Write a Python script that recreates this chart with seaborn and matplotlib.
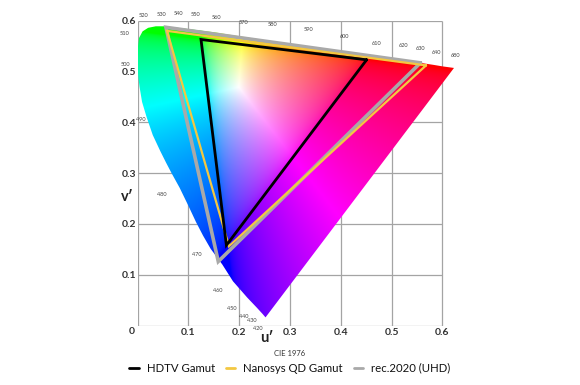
import numpy as np
import pandas as pd
import matplotlib
matplotlib.use("Agg")
import matplotlib.pyplot as plt
from matplotlib.patches import Polygon
import seaborn as sns

# ---- data -------------------------------------------------------------
# spectral locus outline (u', v'), read along the edge from the violet tip
# up the left side, across the top and down to the red corner
locus_u = [0.252, 0.246, 0.235, 0.216, 0.188, 0.167, 0.144, 0.129, 0.115, 0.100,
           0.083, 0.067, 0.056, 0.045, 0.030, 0.018, 0.009, 0.004, 0.0015, 0.000,
           0.0, 0.0008, 0.003, 0.010, 0.021, 0.036, 0.052, 0.079, 0.113,
           0.153, 0.203, 0.262, 0.332, 0.404, 0.469, 0.520, 0.557, 0.583, 0.601, 0.623]
locus_v = [0.016, 0.023, 0.035, 0.055, 0.087, 0.120, 0.151, 0.177, 0.204, 0.236,
           0.271, 0.300, 0.321, 0.343, 0.375, 0.410, 0.440, 0.470, 0.490, 0.513,
           0.530, 0.548, 0.566, 0.579, 0.586, 0.589, 0.589, 0.586, 0.582,
           0.577, 0.569, 0.560, 0.550, 0.539, 0.530, 0.522, 0.517, 0.513, 0.510, 0.507]

# wavelength labels and their positions
wl_labels = ["420", "430", "440", "450", "460", "470", "480", "490", "500", "510",
             "520", "530", "540", "550", "560", "570", "580", "590", "600", "610",
             "620", "630", "640", "680"]
wl_u = [0.237, 0.225, 0.210, 0.186, 0.158, 0.117, 0.048, 0.007, -0.023, -0.025,
        0.011, 0.048, 0.080, 0.115, 0.156, 0.208, 0.265, 0.336, 0.408, 0.471,
        0.523, 0.558, 0.588, 0.625]
wl_v = [-0.005, 0.009, 0.017, 0.034, 0.068, 0.139, 0.257, 0.405, 0.513, 0.574,
        0.611, 0.613, 0.615, 0.613, 0.607, 0.597, 0.592, 0.582, 0.568, 0.556,
        0.552, 0.546, 0.538, 0.531]

# gamut triangles (R, G, B, R)
hdtv_u = [0.451, 0.125, 0.175, 0.451]
hdtv_v = [0.523, 0.563, 0.158, 0.523]
qd_u = [0.568, 0.058, 0.180, 0.568]
qd_v = [0.512, 0.580, 0.156, 0.512]
rec_u = [0.557, 0.056, 0.159, 0.557]
rec_v = [0.517, 0.587, 0.126, 0.517]

tick_vals = [0.1, 0.2, 0.3, 0.4, 0.5, 0.6]
tick_text = ["0.1", "0.2", "0.3", "0.4", "0.5", "0.6"]

# ---- figure -----------------------------------------------------------
sns.set_theme(style="white")
plt.rcParams["font.family"] = ["Lato", "DejaVu Sans"]

fig = plt.figure(figsize=(5.8, 3.85), dpi=100)
ax = fig.add_axes([137.5 / 580, (385 - 325.5) / 385, 0.64 * 508 / 580, 0.6 * 508 / 385])
ax.set_xlim(0, 0.64)
ax.set_ylim(0, 0.6)
for s in ax.spines.values():
    s.set_visible(False)

# grid
gl = [0.0] + tick_vals
ax.vlines(gl, 0, 0.6, color="#a4a4a4", lw=0.9, zorder=0.5)
ax.hlines(gl, 0, 0.6, color="#a4a4a4", lw=0.9, zorder=0.5)

# chromaticity colour field
N = 700
uu, vv = np.meshgrid(np.linspace(0, 0.64, N), np.linspace(0.0005, 0.6, N))
den = 6 * uu - 16 * vv + 12
x = 9 * uu / den
y = 4 * vv / den
X = x / y
Z = (1 - x - y) / y
Y = np.ones_like(X)
R = 3.2406 * X - 1.5372 * Y - 0.4986 * Z
G = -0.9689 * X + 1.8758 * Y + 0.0415 * Z
B = 0.0557 * X - 0.2040 * Y + 1.0570 * Z
rgb = np.clip(np.dstack([R, G, B]), 0, None)
rgb = rgb / np.maximum(rgb.max(axis=2, keepdims=True), 1e-9)
rgb = np.where(rgb <= 0.0031308, 12.92 * rgb, 1.055 * rgb ** (1 / 2.4) - 0.055)
rgb = np.clip(rgb, 0, 1)

im = ax.imshow(rgb, extent=[0, 0.64, 0.0005, 0.6], origin="lower",
               interpolation="bilinear", aspect="auto", zorder=1)
clip = Polygon(np.column_stack([locus_u, locus_v]), closed=True, transform=ax.transData)
im.set_clip_path(clip)

# gamut triangles
common = dict(sort=False, estimator=None, ax=ax, solid_joinstyle="miter", zorder=3)
sns.lineplot(x=rec_u, y=rec_v, color="#a9a9a9", linewidth=2.6, label="rec.2020 (UHD)", **common)
sns.lineplot(x=qd_u, y=qd_v, color="#f3c842", linewidth=1.6, label="Nanosys QD Gamut", **common)
sns.lineplot(x=hdtv_u, y=hdtv_v, color="black", linewidth=2.0, label="HDTV Gamut", **common)

handles, labels = ax.get_legend_handles_labels()
if ax.get_legend() is not None:
    ax.get_legend().remove()
order = [labels.index(l) for l in ["HDTV Gamut", "Nanosys QD Gamut", "rec.2020 (UHD)"]]
leg = fig.legend([handles[i] for i in order], [labels[i] for i in order],
                 loc="center", bbox_to_anchor=(0.50, 1 - 368 / 385), ncol=3, frameon=False,
                 fontsize=8.2, handlelength=0.8, handletextpad=0.7, columnspacing=1.0)
for h in leg.legend_handles:
    h.set_linewidth(2.0)
for t in leg.get_texts():
    t.set_color("#111111")

# ticks
ax.set_xticks(tick_vals)
ax.set_xticklabels(tick_text)
ax.set_yticks(tick_vals)
ax.set_yticklabels(tick_text)
ax.tick_params(axis="both", length=0, labelsize=7.5, labelcolor="#333333")
ax.tick_params(axis="x", pad=2)
ax.tick_params(axis="y", pad=1)
for t in ax.get_xticklabels() + ax.get_yticklabels():
    t.set_fontweight("bold")
ax.text(-0.012, -0.012, "0", ha="center", va="center", fontsize=7.5,
        fontweight="bold", color="#333333", clip_on=False)

# wavelength labels
for lab, wu, wv in zip(wl_labels, wl_u, wl_v):
    ax.text(wu, wv, lab, ha="center", va="center", fontsize=4.1, color="#444444",
            clip_on=False, zorder=4)

# axis titles
fig.text(267 / 580, 1 - 338 / 385, "u′", ha="center", va="center", fontsize=10.5,
         fontweight="bold", color="#222222")
fig.text(127 / 580, 1 - 197 / 385, "v′", ha="center", va="center", fontsize=10.5,
         fontweight="bold", color="#222222")
fig.text(290 / 580, 1 - 353 / 385, "CIE 1976", ha="center", va="center", fontsize=5.5,
         color="#333333")

fig.savefig("out.png", dpi=100)
